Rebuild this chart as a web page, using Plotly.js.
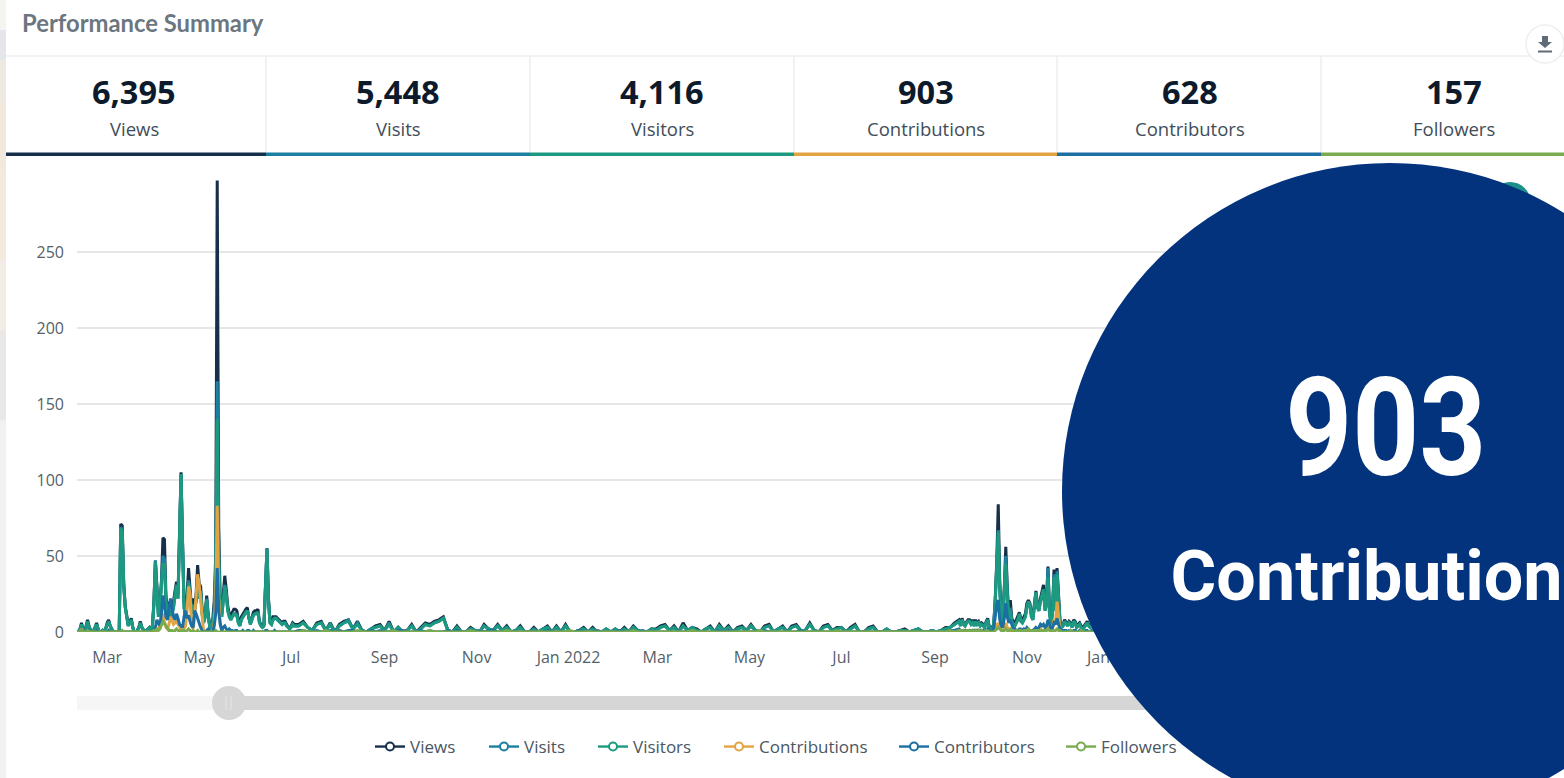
<!DOCTYPE html>
<html><head><meta charset="utf-8">
<script src="https://cdn.plot.ly/plotly-3.0.1.min.js"></script>
<style>html,body{margin:0;padding:0;background:#fff;overflow:hidden}#c{width:1564px;height:778px}</style>
</head><body><div id="c"></div>
<script>
const seriesNames=['Views','Visits','Visitors','Contributions','Contributors','Followers'];
const seriesColors=['#17304a','#1b7f9f','#1c9a80','#e2a443','#1b6fa3','#7aab4f'];
const kpiValues=['6,395','5,448','4,116','903','628','157'];
const yTickVals=[0,50,100,150,200,250,300];
const yTickText=['0','50','100','150','200','250',''];
const xTickVals=['2021-03-01','2021-05-01','2021-07-01','2021-09-01','2021-11-01','2022-01-01','2022-03-01','2022-05-01','2022-07-01','2022-09-01','2022-11-01','2023-01-01','2023-03-01','2023-05-01','2023-07-01','2023-09-01'];
const xTickText=['Mar','May','Jul','Sep','Nov','Jan 2022','Mar','May','Jul','Sep','Nov','Jan 2023','Mar','May','Jul','Sep'];
const startDate='2021-02-09', endDate='2023-10-04';
// Segment A: one value per day from day 0; B: one value per 3 days from day 147; C: one per day from day 586
const viewsA=[1,0,2,6,1,0,4,8,4,1, 0,1,3,6,2,0,0,1,0,2, 6,8,4,2,0,0,0,0,1,71, 70,32,17,10,5,7,9,3,0,0, 1,3,7,3,1,0,1,2,3,1, 4,20,47,30,12,18,33,62,61,24, 14,19,19,16,20,27,33,25,62,105, 60,20,14,24,42,30,15,22,17,25, 44,32,30,15,8,12,24,12,5,3, 8,20,50,297,70,20,12,25,37,28, 17,12,10,13,15,15,14,8,5,10, 12,14,15,16,9,6,9,13,14,14, 15,7,5,4,5,32,55,22,7,6, 10,10,10,9,8,7,6,7,7,5, 3,2,4,6,5];
const visitsA=[1,0,2,5,1,0,3,7,3,1, 0,1,3,5,2,0,0,1,0,2, 5,7,4,2,0,0,0,0,1,69, 67,30,16,9,4,6,8,3,0,0, 1,3,6,3,1,0,1,2,3,1, 3,18,47,28,10,16,30,50,48,20, 12,15,11,12,16,24,31,22,60,104, 58,16,10,19,34,26,12,18,14,20, 30,24,27,12,6,10,22,10,4,2, 6,14,42,165,52,16,10,19,31,24, 14,10,8,10,12,12,11,6,4,8, 10,12,13,14,8,5,8,11,12,12, 13,6,4,3,4,31,55,21,6,5, 8,9,9,8,7,6,5,6,6,4, 3,2,3,5,4];
const visitorsA=[1,0,2,5,1,0,3,7,3,1, 0,1,3,5,2,0,0,1,0,2, 5,7,4,2,0,0,0,0,1,68, 66,30,16,9,4,6,8,3,0,0, 1,3,6,3,1,0,1,2,3,1, 3,18,46,28,10,16,30,44,45,20, 12,14,10,12,16,24,31,22,60,104, 58,16,10,18,32,26,12,18,14,20, 28,22,26,12,6,10,21,10,4,2, 6,12,40,140,50,16,10,18,30,24, 14,10,8,10,12,11,11,6,4,8, 10,12,13,14,8,5,8,11,12,12, 13,6,4,3,4,30,54,20,6,5, 8,9,9,8,7,6,5,6,6,4, 3,2,3,5,4];
const contributionsA=[0,0,0,2,0,0,0,1,0,0, 0,0,0,1,0,0,0,0,0,0, 0,1,0,0,0,0,0,0,0,0, 0,0,0,0,0,0,0,0,0,0, 0,0,0,0,0,0,0,0,0,0, 0,1,0,0,2,4,10,12,6,3, 2,5,10,8,5,6,8,5,3,2, 1,2,4,14,30,24,6,2,10,25, 38,32,22,8,0,0,0,0,0,0, 0,6,20,83,22,6,1,0,0,0, 0,0,0,0,0,0,0,0,0,0, 0,0,0,0,0,0,0,0,0,0, 0,0,0,0,0,0,1,0,0,0, 0,0,0,0,0,0,0,0,0,0, 0,0,0,0,0];
const contributorsA=[0,0,0,1,0,0,0,2,0,0, 0,0,0,1,0,0,0,0,0,0, 0,1,0,0,0,0,0,0,0,0, 0,0,0,0,0,0,0,0,0,0, 0,0,0,0,0,0,0,0,0,0, 0,1,3,8,6,4,12,24,18,10, 8,14,22,16,10,8,12,9,5,4, 3,10,14,9,11,7,4,3,14,12, 9,5,3,1,0,0,1,2,0,0, 0,4,12,42,14,5,1,3,4,2, 1,2,1,1,0,1,1,0,0,0, 1,0,0,1,1,0,0,1,0,0, 0,0,0,0,0,1,1,0,0,0, 0,1,0,0,0,0,0,0,0,0, 0,0,0,0,0];
const followersA=[0,0,0,1,0,0,0,1,0,0, 0,0,0,0,0,0,0,0,0,0, 0,0,0,0,0,0,0,0,0,0, 1,0,0,0,0,0,0,0,0,0, 0,0,0,0,0,0,0,0,0,0, 0,1,1,2,1,2,5,7,6,4, 2,1,1,1,0,1,2,1,1,0, 1,1,0,1,2,1,0,1,0,0, 1,0,0,0,0,0,0,0,0,0, 0,0,1,0,0,0,0,0,0,0, 0,0,0,0,0,0,0,0,0,0, 0,0,0,0,0,0,0,0,0,0, 0,0,0,0,0,0,0,0,0,0, 0,0,0,0,0,0,0,0,0,0, 0,0,0,0,0];
const viewsB=[5,7,3,1,6,7,1,6,0,5, 7,8,2,7,1,0,2,4,5,1, 7,0,3,0,1,5,0,3,6,5, 7,8,10,1,0,4,0,0,3,1, 0,5,2,1,5,1,4,0,1,4, 0,0,3,0,2,4,0,4,0,5, 0,0,1,3,0,3,0,0,2,0, 2,0,3,0,4,1,0,0,2,2, 4,5,1,4,0,6,1,3,2,0, 2,4,0,5,1,4,0,3,4,1, 5,1,0,4,5,0,2,4,0,4, 5,1,1,6,1,0,4,5,1,3, 3,0,3,5,0,0,3,4,0,0, 2,0,0,1,2,0,1,2,0,0, 1,0,1,3,3,6,8];
const visitsB=[4,6,3,1,5,6,1,5,0,4, 6,8,2,6,1,0,2,3,4,1, 6,0,3,0,1,4,0,2,5,4, 6,7,9,1,0,3,0,0,2,1, 0,4,2,1,4,1,3,0,1,3, 0,0,2,0,2,3,0,3,0,4, 0,0,1,2,0,2,0,0,2,0, 2,0,2,0,3,1,0,0,2,1, 3,4,1,3,0,4,1,3,1,0, 2,3,0,4,1,3,0,2,3,1, 4,1,0,3,4,0,2,3,0,3, 4,1,1,5,1,0,3,4,1,2, 3,0,2,4,0,0,2,3,0,0, 2,0,0,1,1,0,1,2,0,0, 1,0,1,2,3,5,7];
const visitorsB=[4,6,3,1,5,6,1,5,0,4, 6,7,2,5,1,0,2,3,4,1, 5,0,3,0,1,4,0,2,5,4, 6,7,9,1,0,3,0,0,2,1, 0,4,2,1,4,1,3,0,1,3, 0,0,2,0,2,3,0,3,0,4, 0,0,1,2,0,2,0,0,2,0, 2,0,2,0,3,1,0,0,2,1, 3,4,1,3,0,4,1,3,1,0, 2,3,0,4,1,3,0,2,3,1, 4,1,0,3,4,0,2,3,0,3, 4,1,1,5,1,0,3,4,1,2, 3,0,2,4,0,0,2,3,0,0, 2,0,0,1,1,0,1,2,0,0, 1,0,1,2,3,5,7];
const contributionsB=[0,1,0,0,0,0,0,0,0,1, 0,0,0,0,0,0,0,0,0,0, 0,0,0,1,0,0,0,0,0,0, 0,0,0,0,0,0,0,0,0,0, 1,0,0,0,0,0,0,0,0,0, 0,0,0,0,0,0,0,0,0,0, 0,0,0,0,0,0,1,0,0,0, 0,0,0,0,0,0,0,0,0,0, 0,0,0,0,0,0,0,0,0,0, 0,0,0,0,0,1,0,0,0,0, 0,0,0,0,0,0,0,0,0,0, 0,0,0,0,0,0,0,0,0,0, 0,0,0,0,0,0,0,0,0,0, 0,0,0,0,0,0,0,0,0,0, 0,0,0,0,0,0,1];
const contributorsB=[1,1,0,0,1,0,0,1,0,1, 0,1,1,0,0,0,1,0,1,0, 0,0,1,1,0,0,0,1,0,1, 0,0,0,1,0,1,0,0,1,0, 1,0,1,1,0,0,0,0,0,0, 0,0,0,0,0,1,0,0,0,0, 0,0,1,0,0,0,1,0,0,0, 0,1,0,0,1,0,1,0,0,0, 0,0,0,0,0,0,0,0,0,0, 0,0,0,1,0,1,0,0,0,0, 0,0,0,1,0,0,0,0,0,0, 0,1,0,0,0,0,0,0,0,0, 0,0,0,0,0,0,0,0,0,0, 0,0,0,0,0,0,0,0,0,0, 0,0,0,0,1,1,2];
const followersB=[0,1,0,0,0,0,1,0,0,0, 0,0,0,1,0,0,0,0,0,0, 0,1,0,0,0,0,0,0,0,1, 0,0,0,0,0,0,0,0,1,0, 0,0,0,0,0,0,1,0,0,0, 0,0,0,0,0,0,0,0,0,0, 1,0,0,0,0,0,0,0,0,0, 0,0,0,0,1,0,0,0,0,0, 0,0,0,0,0,0,0,1,0,0, 0,0,0,0,0,0,0,0,0,0, 0,0,1,0,0,0,0,0,0,0, 0,0,0,0,0,0,0,0,0,1, 0,0,0,0,0,0,0,0,0,0, 0,0,0,0,0,0,0,0,0,0, 0,0,0,0,1,0,1];
const viewsC=[5,9,6,5,7,8,8,6,8,5, 8,6,7,5,6,5,4,7,9,4, 2,3,5,22,46,84,34,10,8,28, 56,30,11,21,9,7,6,8,11,13, 9,8,10,12,19,21,19,12,10,18, 27,18,16,22,26,31,17,21,43,15, 7,15,41,17,42,21,7,4,5,8, 6,5,7,6,4,8,7,4,5,6, 4,3,4,6,7,5,4,5,4,6, 5,4,5,3,4,5,4,3,5,4, 3,4,3,5,4];
const visitsC=[4,8,5,4,6,7,7,5,6,4, 7,5,6,4,5,4,3,6,8,3, 1,2,4,20,42,67,29,8,6,24, 50,26,9,16,7,5,4,6,8,12, 7,6,8,10,16,20,18,10,8,16, 26,16,14,20,24,28,14,19,42,12, 5,12,38,14,40,18,5,3,4,7, 5,4,6,5,3,7,6,3,4,5, 3,2,3,5,6,4,3,4,3,5, 4,3,4,2,3,4,3,2,4,3, 2,3,2,4,3];
const visitorsC=[4,8,5,4,6,7,7,5,6,4, 7,5,6,4,5,4,3,6,8,3, 1,2,4,20,40,66,28,8,6,22, 45,24,8,14,7,5,4,6,8,12, 7,6,8,10,16,20,18,10,8,16, 26,16,14,20,24,28,14,18,36,12, 5,12,36,14,38,18,5,3,4,7, 5,4,6,5,3,7,6,3,4,5, 3,2,3,5,6,4,3,4,3,5, 4,3,4,2,3,4,3,2,4,3, 2,3,2,4,3];
const contributionsC=[0,0,1,0,0,0,1,0,0,0, 0,1,0,0,0,0,0,0,1,0, 0,0,0,2,4,6,3,1,0,2, 6,3,1,0,0,0,0,0,0,0, 0,0,0,0,1,0,0,0,0,0, 0,0,1,2,1,1,0,1,3,2, 0,2,8,6,20,8,1,0,0,0, 0,0,0,0,0,0,0,0,0,0, 0,0,0,0,0,0,0,0,0,0, 0,0,0,0,0,0,0,0,0,0, 0,0,0,0,0];
const contributorsC=[1,1,0,1,1,0,1,1,0,1, 0,1,0,1,0,1,0,1,2,1, 0,0,2,10,18,21,8,4,3,9, 19,10,6,8,4,2,2,1,1,2, 2,1,2,1,3,2,1,1,1,2, 3,2,3,5,4,5,3,4,8,5, 2,3,6,5,9,5,2,1,1,1, 1,0,1,1,0,1,1,0,0,1, 0,0,0,1,1,0,0,1,0,1, 0,0,1,0,0,1,0,0,1,0, 0,0,0,1,0];
const followersC=[1,1,1,0,1,1,1,0,1,0, 1,0,1,0,1,0,0,1,1,0, 0,0,0,1,2,3,2,1,1,1, 2,1,1,2,1,1,0,1,0,1, 1,0,1,1,1,2,1,1,0,1, 1,1,1,1,1,1,1,1,2,1, 0,1,1,1,2,1,1,0,0,0, 0,0,0,1,0,0,0,0,0,0, 1,0,0,0,0,0,0,0,0,0, 0,0,0,1,0,0,0,0,0,0, 0,0,1,0,0];

const seriesParts=[[viewsA,viewsB,viewsC],[visitsA,visitsB,visitsC],[visitorsA,visitorsB,visitorsC],
 [contributionsA,contributionsB,contributionsC],[contributorsA,contributorsB,contributorsC],[followersA,followersB,followersC]];

// pixel → paper helpers for page furniture
const PL=77,PW=1458,PB=632,PH=456;
const fx=p=>(p-PL)/PW, fy=p=>(PB-p)/PH;
const DAY=864e5, t0=Date.parse(startDate+'T00:00:00Z');
const iso=d=>new Date(t0+d*DAY).toISOString().slice(0,10);
function build(parts){const xs=[],ys=[];
 parts[0].forEach((v,i)=>{xs.push(iso(i));ys.push(v)});
 parts[1].forEach((v,i)=>{xs.push(iso(147+3*i));ys.push(v)});
 parts[2].forEach((v,i)=>{xs.push(iso(586+i));ys.push(v)});
 return {xs,ys}}

const traces=[];
seriesNames.forEach((n,i)=>{const d=build(seriesParts[i]);
 traces.push({type:'scatter',mode:'lines',x:d.xs,y:d.ys,name:n,showlegend:false,hoverinfo:'skip',cliponaxis:false,
  line:{color:seriesColors[i],width:3,shape:'linear'}});});
seriesNames.forEach((n,i)=>{traces.push({type:'scatter',mode:'lines+markers',x:[null],y:[null],name:n,
  legend:i?('legend'+(i+1)):'legend',showlegend:true,
  line:{color:seriesColors[i],width:2.4},marker:{symbol:'circle',size:8,color:'#ffffff',line:{width:2,color:seriesColors[i]}}});});

const rect=(x0,y0,x1,y1,fill,layer)=>({type:'rect',xref:'paper',yref:'paper',x0:fx(x0),x1:fx(x1),y0:fy(y0),y1:fy(y1),fillcolor:fill,line:{width:0},layer:layer||'below'});
const line=(x0,y0,x1,y1,c,w,layer)=>({type:'line',xref:'paper',yref:'paper',x0:fx(x0),x1:fx(x1),y0:fy(y0),y1:fy(y1),line:{color:c,width:w},layer:layer||'below'});
const circ=(cx,cy,r,fill,lc,lw,layer)=>({type:'circle',xref:'paper',yref:'paper',x0:fx(cx-r),x1:fx(cx+r),y0:fy(cy+r),y1:fy(cy-r),fillcolor:fill,line:{color:lc||fill,width:lw||0},layer:layer||'below'});
const note=(text,x,y,size,color,family,weight,anchor)=>({text:(weight?'<b>'+text+'</b>':text),xref:'paper',yref:'paper',x:fx(x),y:fy(y),xanchor:anchor||'center',yanchor:'middle',showarrow:false,font:{size,color,family}});

const cardEdges=[6,266,530,794,1057,1321,1564];
const cardCenters=[134,398,662,926,1190,1454];
const legendLeft=[370,484,593,719,894,1061];
const edgeStrip=[[0,30,'#f5f4f1'],[30,60,'#e4e6ec'],[60,100,'#eee9df'],[100,170,'#f1e9dd'],[170,260,'#f4eadc'],[260,330,'#f1ece5'],[330,420,'#e9e8e6'],[420,778,'#f1f1ef']];

const shapes=[], annotations=[];
edgeStrip.forEach(s=>shapes.push(rect(0,s[0],6,s[1],s[2])));
shapes.push(line(6,56,1564,56,'#eceeef',1.5));
cardEdges.slice(1,6).forEach(x=>shapes.push(line(x,56,x,152,'#eceeef',1.5)));
seriesColors.forEach((c,i)=>shapes.push(rect(cardEdges[i],152.5,cardEdges[i+1],156,c)));
shapes.push(rect(77,696,230,710,'#f6f6f6'));
shapes.push(rect(230,696,1300,710,'#d6d6d6'));
shapes.push(circ(229,703,17,'#d6d6d6'));
shapes.push(line(226,696,226,710,'#e6e6e6',1,'above'));
shapes.push(line(231,696,231,710,'#e6e6e6',1,'above'));
// download button
shapes.push(circ(1545,44,19,'#ffffff','#eeeeee',1.5,'above'));
shapes.push({type:'path',xref:'paper',yref:'paper',layer:'above',fillcolor:'#5f6b76',line:{width:0},
 path:`M ${fx(1542)} ${fy(36)} L ${fx(1548)} ${fy(36)} L ${fx(1548)} ${fy(42)} L ${fx(1552)} ${fy(42)} L ${fx(1545)} ${fy(48)} L ${fx(1538)} ${fy(42)} L ${fx(1542)} ${fy(42)} Z`});
shapes.push(line(1538,51.5,1552,51.5,'#5f6b76',2,'above'));
// overlay
shapes.push(circ(1510,203,21,'#1c8f8a',null,0,'above'));
shapes.push(circ(1390,491,328,'#02337c',null,0,'above'));

annotations.push(note('Performance Summary',20,23,23.8,'#6c7680','Lato',true,'left'));
kpiValues.forEach((v,i)=>{annotations.push(note(v,cardCenters[i],91.5,32.5,'#0c1a2c','Open Sans',true));
 annotations.push(note(seriesNames[i],cardCenters[i],129,18.5,'#414d5a','Open Sans',false));});
const bigValue=note('903',1385.5,428,138,'#ffffff','Roboto',true);
const bigLabel=note('Contribution',1366,576,69.5,'#ffffff','Roboto',true);
annotations.push(bigValue,bigLabel);
// the overlay type is condensed: target widths in pixels
const condensed=[['903',201],['Contribution',392]];

const layout={width:1564,height:778,autosize:false,margin:{l:PL,r:1564-PL-PW,t:PB-PH,b:778-PB,pad:0},
 paper_bgcolor:'#ffffff',plot_bgcolor:'rgba(0,0,0,0)',hovermode:false,showlegend:true,
 font:{family:'Open Sans',size:16,color:'#555f69'},
 xaxis:{type:'date',range:[startDate,endDate],tickmode:'array',tickvals:xTickVals,ticktext:xTickText,ticks:'',showgrid:false,zeroline:false,showline:false,tickangle:0,tickfont:{size:16,color:'#555f69',family:'Open Sans'},ticklabelstandoff:14},
 yaxis:{range:[0,300],tickmode:'array',tickvals:yTickVals,ticktext:yTickText,ticks:'',gridcolor:'#e6e6e6',gridwidth:1.5,zeroline:false,showline:false,tickfont:{size:16,color:'#555f69',family:'Open Sans'},ticklabelstandoff:12},
 shapes,annotations};
legendLeft.forEach((x,i)=>{layout[i?('legend'+(i+1)):'legend']={x:fx(x),y:fy(747),xanchor:'left',yanchor:'middle',xref:'paper',yref:'paper',orientation:'h',bgcolor:'rgba(0,0,0,0)',borderwidth:0,itemwidth:30,font:{size:17,color:'#4a5662',family:'Open Sans'}};});
Plotly.newPlot('c',traces,layout,{displayModeBar:false,staticPlot:true}).then(gd=>{
 gd.querySelectorAll('.annotation-text').forEach(t=>{
  const hit=condensed.find(c=>c[0]===t.textContent && parseFloat(getComputedStyle(t).fontSize)>60);
  if(hit){t.setAttribute('textLength',hit[1]);t.setAttribute('lengthAdjust','spacingAndGlyphs');
   const b=t.querySelector('tspan'); if(b){b.setAttribute('textLength',hit[1]);b.setAttribute('lengthAdjust','spacingAndGlyphs');}}
 });
});
</script></body></html>
